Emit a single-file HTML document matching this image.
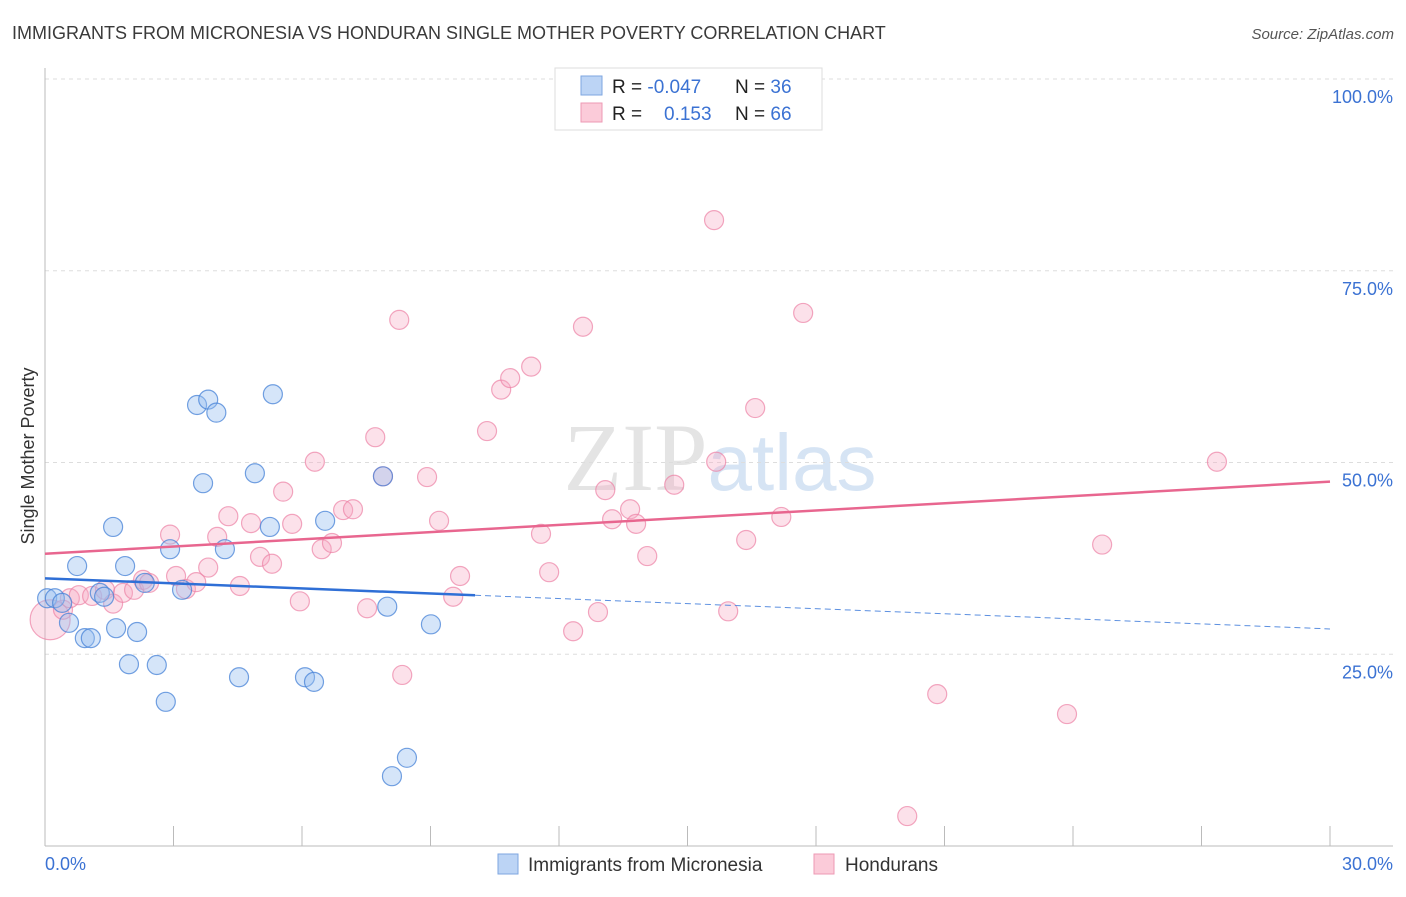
<!DOCTYPE html>
<html><head><meta charset="utf-8"><style>
body{margin:0;background:#fff;font-family:"Liberation Sans",sans-serif;}
</style></head><body>
<svg id="chart" width="1406" height="892" xmlns="http://www.w3.org/2000/svg" font-family="Liberation Sans, sans-serif">
<text x="12" y="39" font-size="18" fill="#3a3a3a">IMMIGRANTS FROM MICRONESIA VS HONDURAN SINGLE MOTHER POVERTY CORRELATION CHART</text>
<text x="1394" y="39" font-size="15" fill="#555" text-anchor="end" font-style="italic">Source: ZipAtlas.com</text>
<text x="720" y="490" font-size="96" text-anchor="middle" fill="#e4e4e4" font-family="Liberation Serif, serif">ZIP<tspan fill="#d6e4f4" font-family="Liberation Sans, sans-serif" font-size="80">atlas</tspan></text>
<text transform="translate(34,456) rotate(-90)" font-size="18" fill="#333" text-anchor="middle">Single Mother Poverty</text>
<g id="grid"></g><g id="axes"></g><g id="pts"></g><g id="lines"></g>
<g>
<rect x="555" y="68" width="267" height="62" fill="#fff" stroke="#ddd"/>
<rect x="581" y="76" width="21" height="19" fill="#bcd4f5" stroke="#7ea6e0"/>
<rect x="581" y="103" width="21" height="19" fill="#fbcbd9" stroke="#ee9ab4"/>
<text x="612" y="93" font-size="19" fill="#222">R = <tspan fill="#3b72d3">-0.047</tspan><tspan x="735">N = </tspan><tspan fill="#3b72d3">36</tspan></text>
<text x="612" y="120" font-size="19" fill="#222">R = <tspan x="664" fill="#3b72d3">0.153</tspan><tspan x="735">N = </tspan><tspan fill="#3b72d3">66</tspan></text>
</g>
<g>
<rect x="498" y="854" width="20" height="20" fill="#bcd4f5" stroke="#7ea6e0"/>
<text x="528" y="871" font-size="19" fill="#333">Immigrants from Micronesia</text>
<rect x="814" y="854" width="20" height="20" fill="#fbcbd9" stroke="#ee9ab4"/>
<text x="845" y="871" font-size="19" fill="#333">Hondurans</text>
</g>
</svg>
<script>
const blueX=[0.05,0.23,0.40,0.56,0.75,0.93,1.07,1.28,1.38,1.59,1.66,1.87,1.96,2.15,2.33,2.61,2.82,2.92,3.20,3.55,3.81,4.00,3.69,4.20,4.53,4.90,5.25,5.32,6.07,6.28,6.54,7.89,7.99,8.10,8.45,9.01];
const blueY=[32.3,32.3,31.7,29.1,36.5,27.1,27.1,33.0,32.5,41.6,28.4,36.5,23.7,27.9,34.3,23.6,18.8,38.7,33.4,57.5,58.2,56.5,47.3,38.7,22.0,48.6,41.6,58.9,22.0,21.4,42.4,48.2,31.2,9.1,11.5,28.9];
const pinkX=[0.12,0.42,0.58,0.79,1.10,1.40,1.59,1.82,2.08,2.29,2.43,2.92,3.06,3.29,3.53,3.81,4.02,4.28,4.55,4.81,5.02,5.30,5.56,5.77,5.95,6.30,6.46,6.70,6.96,7.19,7.52,7.71,7.89,8.27,8.34,8.92,9.20,9.53,9.69,10.32,10.65,10.86,11.35,11.58,11.77,12.33,12.56,12.91,13.08,13.24,13.66,13.80,14.06,14.69,15.62,15.67,15.95,16.37,16.58,17.19,17.70,20.13,20.83,23.86,24.68,27.36];
const pinkY=[29.5,30.8,32.3,32.7,32.6,33.4,31.6,33.0,33.4,34.7,34.3,40.6,35.2,33.5,34.4,36.3,40.3,43.0,33.9,42.1,37.7,36.8,46.2,42.0,31.9,50.1,38.7,39.5,43.8,43.9,31.0,53.3,48.2,68.6,22.3,48.1,42.4,32.5,35.2,54.1,59.5,61.0,62.5,40.7,35.7,28.0,67.7,30.5,46.4,42.6,43.9,42.0,37.8,47.1,81.6,50.1,30.6,39.9,57.1,42.9,69.5,3.9,19.8,17.2,39.3,50.1];
const yTicks=[25,50,75,100];
const yTickLabels=["25.0%","50.0%","75.0%","100.0%"];
const xTicks=[0,3,6,9,12,15,18,21,24,27,30];
const blueTrend=[34.9,28.3];
const pinkTrend=[38.1,47.5];
const NS='http://www.w3.org/2000/svg';
const X=v=>45+v/30*1285, Y=v=>846-v/100*767;
function mk(p,t,a){const e=document.createElementNS(NS,t);for(const k in a)e.setAttribute(k,a[k]);p.appendChild(e);return e;}
const grid=document.getElementById('grid'),axes=document.getElementById('axes'),pts=document.getElementById('pts'),lines=document.getElementById('lines');
yTicks.forEach((t,i)=>{
 const g=mk(grid,'line',{x1:45,x2:1393,y1:Y(t),y2:Y(t),stroke:'#ddd','stroke-dasharray':'4,4'});
 
 
 const l=mk(axes,'text',{x:1393,y:Y(t)+24,'font-size':18,fill:'#3b72d3','text-anchor':'end'});
 l.textContent=yTickLabels[i];
 
 
});
const ax=mk(axes,'line',{x1:45,x2:1393,y1:846,y2:846,stroke:'#bbb'});


const ay=mk(axes,'line',{x1:45,x2:45,y1:68,y2:846,stroke:'#bbb'});


xTicks.forEach(t=>{const k=mk(axes,'line',{x1:X(t),x2:X(t),y1:826,y2:846,stroke:'#bbb'});
 
 });
const xl0=mk(axes,'text',{x:45,y:870,'font-size':18,fill:'#3b72d3'});xl0.textContent=xTicks[0].toFixed(1)+'%';


const xl1=mk(axes,'text',{x:1393,y:870,'font-size':18,fill:'#3b72d3','text-anchor':'end'});xl1.textContent=xTicks[xTicks.length-1].toFixed(1)+'%';


pinkX.forEach((x,i)=>{const c=mk(pts,'circle',{cx:X(x),cy:Y(pinkY[i]),r:i==0?20:9.5,fill:'rgba(247,170,195,0.35)',stroke:'rgba(236,130,165,0.7)','stroke-width':1.2});
 
 });
blueX.forEach((x,i)=>{const c=mk(pts,'circle',{cx:X(x),cy:Y(blueY[i]),r:9.5,fill:'rgba(150,190,240,0.4)',stroke:'rgba(70,130,215,0.75)','stroke-width':1.2});
 
 });
const bAt=x=>blueTrend[0]+(blueTrend[1]-blueTrend[0])*x/30;
const solidEnd=Math.max(...blueX)+1.03;
const pl=mk(lines,'line',{x1:X(0),y1:Y(pinkTrend[0]),x2:X(30),y2:Y(pinkTrend[1]),stroke:'#e8668f','stroke-width':2.5});


const bl=mk(lines,'line',{x1:X(0),y1:Y(bAt(0)),x2:X(solidEnd),y2:Y(bAt(solidEnd)),stroke:'#2f6fd6','stroke-width':2.5});


const bd=mk(lines,'line',{x1:X(solidEnd),y1:Y(bAt(solidEnd)),x2:X(30),y2:Y(bAt(30)),stroke:'#5b8fe0','stroke-width':1,'stroke-dasharray':'6,4'});


</script>
</body></html>
